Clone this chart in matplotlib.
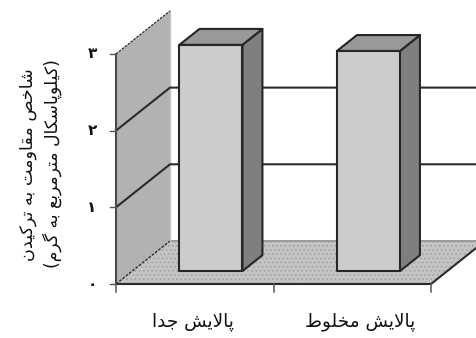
import matplotlib
matplotlib.use("Agg")
import matplotlib.pyplot as plt
from matplotlib.patches import Polygon

categories = ["پالایش جدا", "پالایش مخلوط"]
values = [2.95, 2.87]
y_ticks = [0, 1, 2, 3]
y_tick_labels = ["۰", "۱", "۲", "۳"]
y_title_1 = "شاخص مقاومت به ترکیدن"
y_title_2 = "(کیلوپاسکال مترمربع به گرم)"

FORMS = {
    "ا": (0xFE8D, 0xFE8E, None, None), "د": (0xFEA9, 0xFEAA, None, None),
    "ر": (0xFEAD, 0xFEAE, None, None), "و": (0xFEED, 0xFEEE, None, None),
    "ب": (0xFE8F, 0xFE90, 0xFE91, 0xFE92), "پ": (0xFB56, 0xFB57, 0xFB58, 0xFB59),
    "ت": (0xFE95, 0xFE96, 0xFE97, 0xFE98), "ج": (0xFE9D, 0xFE9E, 0xFE9F, 0xFEA0),
    "خ": (0xFEA5, 0xFEA6, 0xFEA7, 0xFEA8), "س": (0xFEB1, 0xFEB2, 0xFEB3, 0xFEB4),
    "ش": (0xFEB5, 0xFEB6, 0xFEB7, 0xFEB8), "ص": (0xFEB9, 0xFEBA, 0xFEBB, 0xFEBC),
    "ط": (0xFEC1, 0xFEC2, 0xFEC3, 0xFEC4), "ع": (0xFEC9, 0xFECA, 0xFECB, 0xFECC),
    "ق": (0xFED5, 0xFED6, 0xFED7, 0xFED8), "ک": (0xFB8E, 0xFB8F, 0xFB90, 0xFB91),
    "گ": (0xFB92, 0xFB93, 0xFB94, 0xFB95), "ل": (0xFEDD, 0xFEDE, 0xFEDF, 0xFEE0),
    "م": (0xFEE1, 0xFEE2, 0xFEE3, 0xFEE4), "ن": (0xFEE5, 0xFEE6, 0xFEE7, 0xFEE8),
    "ه": (0xFEE9, 0xFEEA, 0xFEEB, 0xFEEC), "ی": (0xFBFC, 0xFBFD, 0xFBFE, 0xFBFF),
}


def shape(text):
    """Contextual shaping and visual ordering (matplotlib does neither)."""
    out = []
    i = 0
    prev_joins = False
    while i < len(text):
        c = text[i]
        nxt = text[i + 1] if i + 1 < len(text) else ""
        if c not in FORMS:
            out.append(c)
            prev_joins = False
            i += 1
            continue
        if c == "ل" and nxt == "ا":
            out.append(chr(0xFEFC if prev_joins else 0xFEFB))
            prev_joins = False
            i += 2
            continue
        f = FORMS[c]
        can_next = f[2] is not None and nxt in FORMS
        if prev_joins and can_next:
            g = f[3]
        elif prev_joins:
            g = f[1]
        elif can_next:
            g = f[2]
        else:
            g = f[0]
        out.append(chr(g))
        prev_joins = can_next
        i += 1
    swap = {"(": ")", ")": "("}
    return "".join(swap.get(ch, ch) for ch in reversed(out))


X0, Y0, CAT_W, UNIT, DX, DY = 116, 284, 157.5, 76.7, 54, 43


def P(cat, val, depth=0.0):
    return (X0 + cat * CAT_W + depth * DX, Y0 - val * UNIT - depth * DY)


fig = plt.figure(figsize=(4.76, 3.38), dpi=100)
ax = fig.add_axes([0, 0, 1, 1])
ax.set_xlim(0, 476)
ax.set_ylim(338, 0)
ax.axis("off")
plt.rcParams["hatch.linewidth"] = 0.7

n = len(categories)
top = y_ticks[-1]
dark = "#2b2b2b"

# floor
ax.add_patch(Polygon([P(0, 0), P(n, 0), P(n, 0, 1), P(0, 0, 1)], fc="#c4c4c4",
                     ec="#a2a2a2", hatch="....", lw=0, zorder=1))
ax.plot(*zip(P(0, 0), P(n, 0), P(n, 0, 1)), color=dark, lw=1.5, zorder=2)
ax.plot(*zip(P(0, 0, 1), P(n, 0, 1)), color="#999999", lw=1.4, zorder=2)
ax.plot(*zip(P(0, 0), P(0, 0, 1)), color=dark, lw=1.0, ls=(0, (2, 1)), zorder=2)

# side wall
ax.add_patch(Polygon([P(0, 0), P(0, top), P(0, top, 1), P(0, 0, 1)], fc="#b2b2b2",
                     ec="none", zorder=1))
ax.plot(*zip(P(0, top, 1), P(0, 0, 1)), color="#c4c4c4", lw=1.0, zorder=2)
ax.plot(*zip(P(0, top), P(0, top, 1)), color=dark, lw=0.9, ls=(0, (2, 1)), zorder=2)
ax.plot(*zip(P(0, 0), P(0, top)), color="#4a4a4a", lw=1.5, zorder=3)

# gridlines
for v in y_ticks[1:-1]:
    ax.plot(*zip(P(0, v), P(0, v, 1), P(n, v, 1)), color=dark, lw=1.5, zorder=2)

# bars
D0, D1, W = 0.3, 0.67, 0.4
for i, v in enumerate(values):
    l, r = i + 0.5 - W / 2, i + 0.5 + W / 2
    kw = dict(ec="#262626", lw=1.5, joinstyle="round", zorder=4)
    ax.add_patch(Polygon([P(r, 0, D0), P(r, 0, D1), P(r, v, D1), P(r, v, D0)], fc="#7f7f7f", **kw))
    ax.add_patch(Polygon([P(l, v, D0), P(r, v, D0), P(r, v, D1), P(l, v, D1)], fc="#999999", **kw))
    ax.add_patch(Polygon([P(l, 0, D0), P(r, 0, D0), P(r, v, D0), P(l, v, D0)], fc="#cccccc", **kw))

# ticks and labels
for v, lab in zip(y_ticks, y_tick_labels):
    x, y = P(0, v)
    ax.plot([x - 6, x], [y, y], color="#555555", lw=1.0, zorder=3)
    ax.text(x - 24, y, lab, ha="center", va="center", fontsize=11, color="#111111",
            fontweight="bold", family="DejaVu Sans")
for c in range(n + 1):
    x, y = P(c, 0)
    ax.plot([x, x], [y, y + 8], color="#555555", lw=1.1, zorder=3)
for i, lab in enumerate(categories):
    ax.text({0: 193, 1: 360}[i], 322, shape(lab), ha="center", va="center",
            fontsize=13.2, color="#111111", family="DejaVu Sans")

ax.text(28, 165, shape(y_title_1), rotation=90, ha="center", va="center",
        fontsize=12.6, color="#111111", family="DejaVu Sans")
ax.text(52, 164, shape(y_title_2), rotation=90, ha="center", va="center",
        fontsize=12.4, color="#111111", family="DejaVu Sans")

fig.savefig("out.png", dpi=100)
